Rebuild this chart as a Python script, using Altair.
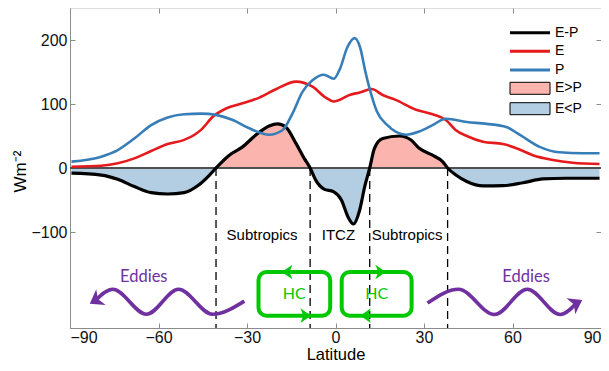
import altair as alt
import pandas as pd

# ---------------- data ----------------
lat_EP = [-89.5, -79.4, -73.8, -68.2, -62.5, -56.9, -51.3, -46.5, -42.7, -40.5,
          -36.0, -31.5, -27.0, -22.5, -19.6, -16.8, -13.4, -10.6, -8.6, -6.7,
          -3.9, -0.7, 2.0, 4.2, 6.1, 8.2, 9.9, 11.6, 13.2, 16.0,
          21.7, 25.6, 28.4, 32.9, 36.3, 38.0, 40.8, 44.5, 50.0, 56.8,
          63.6, 70.3, 78.2, 89.5]
EP = [-8, -11, -17.7, -29, -38.5, -40.6, -38.5, -27, -11, 0,
      20, 33, 51.6, 65.6, 68.8, 63.5, 38.5, 15, 0, -19,
      -33, -37, -50, -76, -87.5, -65.6, -29, 0, 30.7, 46,
      50, 43.7, 30.7, 20, 10, 0, -11, -21, -28, -27.6,
      -23, -17, -16, -16]

lat_E = [-89.5, -79.4, -73.8, -68.2, -62.5, -56.9, -51.3, -47.9, -45.5, -41.6,
         -37.1, -31.5, -25.8, -20.2, -13.4, -7.8, -3.3, -0.6, 5.0, 8.2,
         12.3, 16.0, 20.2, 27.3, 32.9, 37.4, 40.8, 44.5, 50.0, 56.8,
         61.3, 66.9, 73.7, 80.4, 89.5]
E = [2, 3.6, 7.3, 15, 26.6, 37.5, 44, 51.6, 60, 80,
     93, 101, 110, 123, 135, 127, 110, 104, 114.5, 118,
     123.4, 114, 106.8, 91, 84, 75, 59, 50, 41, 37.5,
     31, 20, 12.5, 8.3, 6.3]

lat_P = [-89.5, -79.4, -73.8, -68.2, -62.5, -56.9, -51.3, -45.5, -40.5, -34.8,
         -29.2, -22.5, -18.0, -14.6, -11.2, -7.8, -4.0, -0.6, 1.6, 3.9,
         6.5, 8.4, 10.1, 11.8, 14.0, 17.4, 23.9, 28.4, 32.9, 37.4,
         44.5, 51.2, 57.9, 62.4, 69.2, 75.9, 83.8, 89.5]
P = [10, 17.7, 28, 46, 67, 79, 84, 85, 83, 75,
     62, 52, 59, 85, 119, 137, 145.8, 139.5, 156, 187.5,
     203, 187.5, 151, 120, 88.6, 67.7, 52, 57, 67, 77,
     72, 69, 64, 52, 33, 24.5, 23, 23]

series_names = ["E-P", "E", "P"]
fill_names = ["E>P", "E<P"]

boundary_lat = [-40.5, -8.6, 11.6, 38.0]

region_names = ["Subtropics", "ITCZ", "Subtropics"]
region_lat = [-24.9, 1.0, 24.3]
region_val = [-104, -104, -104]

hc_lat1 = [-26.1, 2.1]
hc_lat2 = [-1.8, 25.8]
hc_top = [-162.5, -162.5]
hc_bottom = [-230.8, -230.8]
hc_text_lat = [-14.0, 14.0]
hc_text_val = [-197, -197]
hc_arrow_lat = [-16.4, -10.1, 15.3, 10.2]
hc_arrow_val = [-162.5, -230.8, -162.5, -230.8]
hc_arrow_dir = [180, 0, 0, 180]

eddy_left_lat = [-81.4, -75.5, -64.1, -53.2, -41.7, -30.9]
eddy_left_val = [-207, -189.5, -228.6, -189.5, -228.6, -208]
eddy_right_lat = [31.2, 41.7, 53.9, 65.0, 76.2, 81.7]
eddy_right_val = [-211, -189.5, -229, -189.5, -229, -211]
eddy_arrow_lat = [-81.4, 81.7]
eddy_arrow_val = [-207, -211]
eddy_arrow_dir = [149, 331]
eddy_text_lat = [-65.0, 64.6]
eddy_text_val = [-170, -170]

x_ticks = [-90, -60, -30, 0, 30, 60, 90]
y_ticks = [-100, 0, 100, 200]

# ---------------- styling ----------------
FONT = "Liberation Sans"
GRAY = "#8c8c8c"
GREEN = "#00c800"
PURPLE = "#7030a0"
PINK = "#fbb4ae"
LBLUE = "#b3cde3"

xs = alt.Scale(domain=[-90, 90], nice=False, zero=False)
ys = alt.Scale(domain=[-250, 250], nice=False, zero=False)


def X(field="lat:Q"):
    return alt.X(field, scale=xs, axis=None)


def Y(field="val:Q"):
    return alt.Y(field, scale=ys, axis=None)


ep_df = pd.DataFrame({"lat": lat_EP, "ep": EP})
lines_df = pd.concat([
    pd.DataFrame({"lat": lat_EP, "val": EP, "series": "E-P"}),
    pd.DataFrame({"lat": lat_E, "val": E, "series": "E"}),
    pd.DataFrame({"lat": lat_P, "val": P, "series": "P"}),
], ignore_index=True)

fill_scale = alt.Scale(domain=fill_names, range=[PINK, LBLUE])
fill_legend = alt.Legend(
    title=None, orient="none", legendX=453, legendY=73.3, padding=0,
    symbolType="M-5,-1.5H5V1.5H-5Z", symbolSize=64,
    symbolStrokeColor="black", symbolStrokeWidth=1, symbolOpacity=1,
    labelFont=FONT, labelFontSize=14, labelColor="#000",
    rowPadding=4.4, labelOffset=18,
)

area_pos = alt.Chart(ep_df).transform_calculate(
    y="max(datum.ep, 0)", kind="'E>P'"
).mark_area(interpolate="monotone", opacity=1).encode(
    x=alt.X("lat:Q", scale=xs, axis=alt.Axis(
        orient="bottom", values=x_ticks, title="Latitude", grid=False,
        domainColor=GRAY, tickColor=GRAY, tickSize={"expr": "-5"},
        labelFont=FONT, labelFontSize=16, labelColor="#111", labelPadding=6,
        titleFont=FONT, titleFontSize=16.5, titleFontWeight="normal", titleColor="#000",
        titleX=265.5, titleY=31.5, titleBaseline="alphabetic", titleAlign="center")),
    y=alt.Y("y:Q", scale=ys, axis=alt.Axis(
        orient="left", values=y_ticks, title="Wm⁻²", grid=False,
        domainColor=GRAY, tickColor=GRAY, tickSize={"expr": "-5"},
        labelFont=FONT, labelFontSize=16, labelColor="#111", labelPadding=8,
        titleFont=FONT, titleFontSize=17, titleFontWeight="normal", titleColor="#000",
        titleAngle=270, titleX=-45, titleY=163, titleBaseline="alphabetic", titleAlign="center")),
    y2=alt.datum(0),
    fill=alt.Fill("kind:N", scale=fill_scale, legend=fill_legend),
)

area_neg = alt.Chart(ep_df).transform_calculate(
    y="min(datum.ep, 0)", kind="'E<P'"
).mark_area(interpolate="monotone", opacity=1).encode(
    x=X(), y=Y("y:Q"), y2=alt.datum(0),
    fill=alt.Fill("kind:N", scale=fill_scale, legend=fill_legend),
)

zero_line = alt.Chart(pd.DataFrame({"v": [0]})).mark_rule(
    color="#505050", strokeWidth=2
).encode(y=Y("v:Q"))

dashed = alt.Chart(pd.DataFrame({"lat": boundary_lat})).mark_rule(
    color="black", strokeWidth=1.3, strokeDash=[8, 5]
).encode(x=X(), y=alt.Y(datum=0, scale=ys, axis=None), y2=alt.datum(-250))

lines = alt.Chart(lines_df).mark_line(interpolate="monotone").encode(
    x=alt.X("lat:Q", scale=xs, axis=alt.Axis(
        orient="top", values=x_ticks, labels=False, domain=False, title=None,
        grid=False, tickColor=GRAY, tickSize={"expr": "-5"})),
    y=alt.Y("val:Q", scale=ys, axis=alt.Axis(
        orient="right", values=y_ticks, labels=False, domain=False, title=None,
        grid=False, tickColor=GRAY, tickSize={"expr": "-5"})),
    color=alt.Color("series:N", scale=alt.Scale(domain=series_names,
                                                range=["#000000", "#e41a1c", "#377eb8"]),
                    legend=alt.Legend(
                        title=None, orient="none", legendX=453, legendY=17.7, padding=0,
                        symbolType="M-5,0H5", symbolSize=64, symbolStrokeWidth=3,
                        labelFont=FONT, labelFontSize=14, labelColor="#000",
                        rowPadding=4.6, labelOffset=18)),
    strokeWidth=alt.when(alt.datum.series == "E-P").then(alt.value(3.2)).otherwise(alt.value(2.6)),
)

regions = alt.Chart(pd.DataFrame({"name": region_names, "lat": region_lat, "val": region_val})).mark_text(
    font=FONT, fontSize=15, color="#000", baseline="middle", align="center"
).encode(x=X(), y=Y(), text="name:N")

hc_boxes = alt.Chart(pd.DataFrame({"lat": hc_lat1, "lat2": hc_lat2, "val": hc_top, "val2": hc_bottom})).mark_rect(
    fill="transparent", stroke=GREEN, strokeWidth=4, cornerRadius=8
).encode(x=X(), x2="lat2:Q", y=Y(), y2="val2:Q")

ARROW = "M1,0L-1,-1.4L-0.45,0L-1,1.4Z"
hc_arrows = alt.Chart(pd.DataFrame({"lat": hc_arrow_lat, "val": hc_arrow_val, "dir": hc_arrow_dir})).mark_point(
    shape=ARROW, filled=True, color=GREEN, size=110, opacity=1
).encode(x=X(), y=Y(), angle=alt.Angle("dir:Q", scale=None))

hc_text = alt.Chart(pd.DataFrame({"lat": hc_text_lat, "val": hc_text_val, "t": ["HC", "HC"]})).mark_text(
    font="Lato", fontSize=16, color=GREEN, baseline="middle", align="center"
).encode(x=X(), y=Y(), text="t:N")

eddy_df = pd.concat([
    pd.DataFrame({"lat": eddy_left_lat, "val": eddy_left_val, "side": "left"}),
    pd.DataFrame({"lat": eddy_right_lat, "val": eddy_right_val, "side": "right"}),
], ignore_index=True)
eddies = alt.Chart(eddy_df).mark_line(
    interpolate="monotone", color=PURPLE, strokeWidth=3.6
).encode(x=X(), y=Y(), detail="side:N")

eddy_arrows = alt.Chart(pd.DataFrame({"lat": eddy_arrow_lat, "val": eddy_arrow_val, "dir": eddy_arrow_dir})).mark_point(
    shape=ARROW, filled=True, color=PURPLE, size=170, opacity=1
).encode(x=X(), y=Y(), angle=alt.Angle("dir:Q", scale=None))

eddy_text = alt.Chart(pd.DataFrame({"lat": eddy_text_lat, "val": eddy_text_val, "t": ["Eddies", "Eddies"]})).mark_text(
    font="Lato", fontSize=16.5, color=PURPLE, baseline="middle", align="center"
).encode(x=X(), y=Y(), text="t:N")

chart = alt.layer(
    area_pos, area_neg, zero_line, dashed, lines, regions,
    hc_boxes, hc_arrows, hc_text, eddies, eddy_arrows, eddy_text,
).resolve_axis(x="independent", y="independent").properties(
    width=531, height=320,
    autosize=alt.AutoSizeParams(type="none"),
    padding={"left": 62, "top": 0, "right": 0, "bottom": 35},
).configure_view(stroke=GRAY, strokeWidth=1).configure(font=FONT, background="white")

chart.save("out.html", embed_options={"renderer": "svg", "actions": False})
